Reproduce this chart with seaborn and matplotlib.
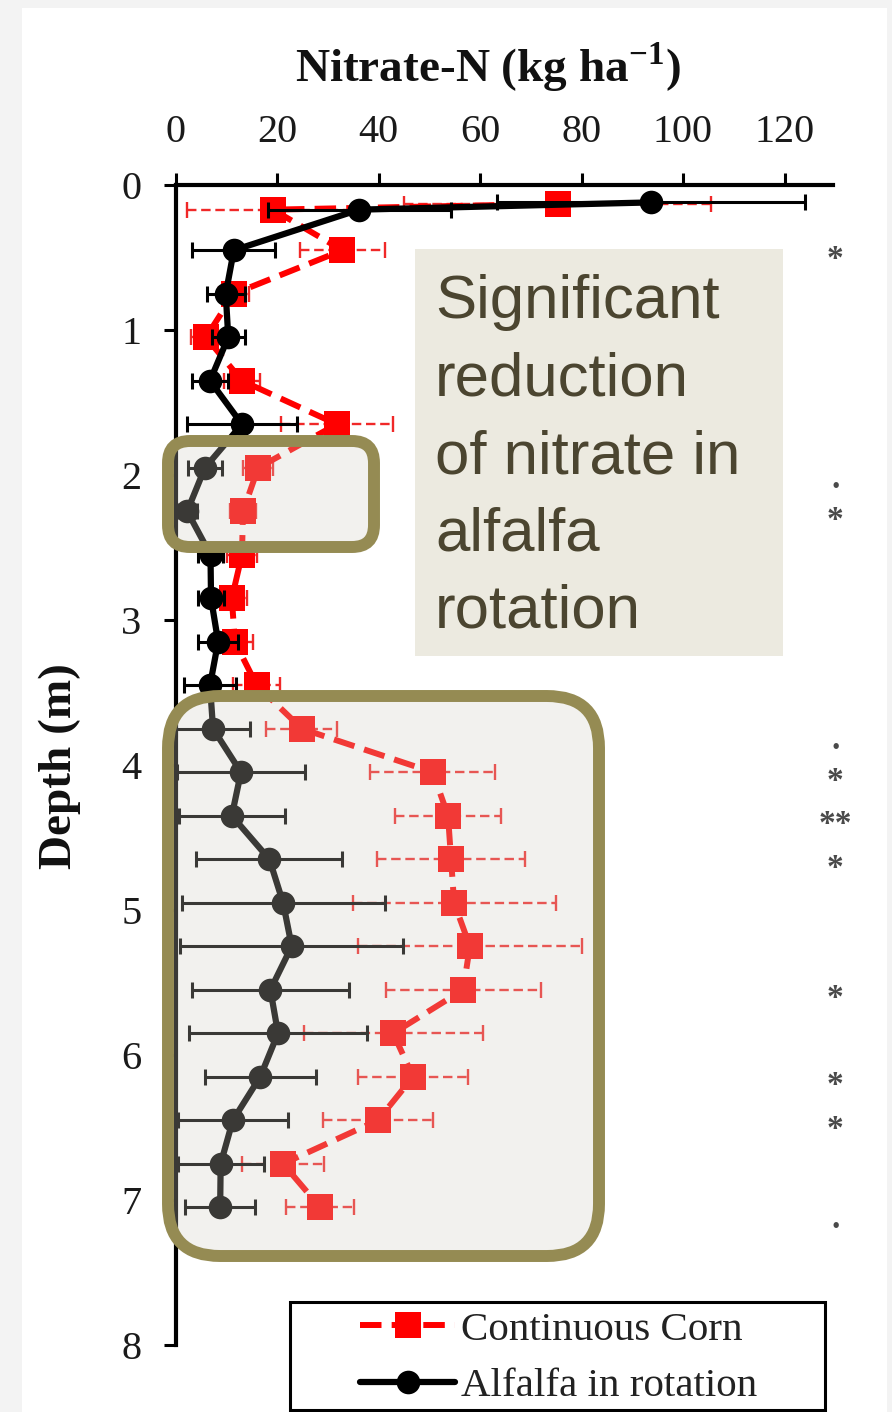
import matplotlib
matplotlib.use("Agg")
import matplotlib.pyplot as plt
import seaborn as sns
from matplotlib.patches import FancyBboxPatch, Rectangle

# ---------------- data ----------------
corn_depth = [0.13, 0.17, 0.45, 0.75, 1.05, 1.35, 1.65, 1.95, 2.25, 2.55, 2.85, 3.15,
              3.45, 3.75, 4.05, 4.35, 4.65, 4.95, 5.25, 5.55, 5.85, 6.15, 6.45, 6.75, 7.05]
corn_nitrate = [75.3, 19.2, 32.9, 11.5, 6.0, 13.1, 31.8, 16.3, 13.3, 13.1, 11.1, 11.7,
                16.0, 24.9, 50.7, 53.7, 54.3, 54.9, 58.0, 56.7, 42.9, 46.8, 39.9, 21.2, 28.5]
corn_err = [30.3, 17.0, 8.3, 3.0, 3.0, 3.5, 11.0, 3.0, 2.5, 3.0, 3.0, 3.6,
            4.6, 7.0, 12.3, 10.4, 14.5, 20.0, 22.0, 15.3, 17.6, 10.9, 10.8, 8.0, 6.7]

alf_depth = [0.12, 0.17, 0.45, 0.75, 1.05, 1.35, 1.65, 1.95, 2.25, 2.55, 2.85, 3.15,
             3.45, 3.75, 4.05, 4.35, 4.65, 4.95, 5.25, 5.55, 5.85, 6.15, 6.45, 6.75, 7.05]
alf_nitrate = [93.7, 36.2, 11.5, 9.9, 10.4, 6.8, 13.1, 5.8, 2.3, 6.9, 7.0, 8.4,
               6.8, 7.4, 12.9, 11.1, 18.5, 21.2, 22.9, 18.7, 20.2, 16.7, 11.3, 8.9, 8.8]
alf_err = [30.3, 18.0, 8.2, 3.7, 3.3, 3.6, 10.8, 3.4, 2.0, 2.5, 2.6, 3.9,
           5.2, 7.3, 12.6, 10.5, 14.4, 20.0, 22.0, 15.5, 17.6, 10.9, 10.8, 8.5, 6.9]

series_labels = ["Continuous Corn", "Alfalfa in rotation"]
x_ticks = [0, 20, 40, 60, 80, 100, 120]
y_ticks = [0, 1, 2, 3, 4, 5, 6, 7, 8]
sig_depth = [0.45, 1.95, 2.25, 3.75, 4.05, 4.35, 4.65, 5.55, 6.15, 6.45, 7.05]
sig_marks = ["*", ".", "*", ".", "*", "**", "*", "*", "*", "*", "."]
note_lines = ["Significant", "reduction", "of nitrate in", "alfalfa", "rotation"]

# ---------------- style ----------------
W, H, DPI = 892, 1412, 100
sns.set_theme(style="white")
plt.rcParams["font.family"] = ["Liberation Serif", "DejaVu Serif"]
plt.rcParams["mathtext.fontset"] = "custom"
plt.rcParams["mathtext.rm"] = "Liberation Serif"
plt.rcParams["mathtext.bf"] = "Liberation Serif:bold"

fig = plt.figure(figsize=(W / DPI, H / DPI), dpi=DPI, facecolor="#F3F3F3")

# background panel (pixel coordinates)
bg = fig.add_axes([0, 0, 1, 1], zorder=0)
bg.set_xlim(0, W); bg.set_ylim(H, 0); bg.axis("off")
bg.add_patch(Rectangle((22, 8), 865, H - 8, facecolor="white", edgecolor="none"))

# main axes
x0, x1, y0, y1 = 175.5, 833, 185, 1345
ax = fig.add_axes([x0 / W, 1 - y1 / H, (x1 - x0) / W, (y1 - y0) / H], zorder=1)
ax.patch.set_alpha(0)

# error bars + lines
eb_c = ax.errorbar(corn_nitrate, corn_depth, xerr=corn_err, fmt="none", ecolor="#F02828",
                   elinewidth=1.7, capsize=5.5, capthick=1.7, zorder=2)
eb_c[2][0].set_linestyle((0, (4, 2)))
sns.lineplot(x=corn_nitrate, y=corn_depth, sort=False, estimator=None, ax=ax, legend=False,
             color="#FF0000", lw=4.3, linestyle=(0, (3.6, 1.7)), marker="s",
             markersize=19, markeredgewidth=0, zorder=3)
corn_line = ax.lines[-1]

ax.errorbar(alf_nitrate, alf_depth, xerr=alf_err, fmt="none", ecolor="black",
            elinewidth=2.2, capsize=5.5, capthick=2.2, zorder=4)
sns.lineplot(x=alf_nitrate, y=alf_depth, sort=False, estimator=None, ax=ax, legend=False,
             color="black", lw=4.5, marker="o", markersize=17, markeredgewidth=0, zorder=5)
alf_line = ax.lines[-1]

ax.set_xlim(0, (x1 - x0) / 5.075)
ax.set_ylim(8, 0)
ax.set_xticks(x_ticks)
ax.set_yticks(y_ticks)
for s in ["right", "bottom"]:
    ax.spines[s].set_visible(False)
for s in ["top", "left"]:
    ax.spines[s].set_linewidth(3)
    ax.spines[s].set_color("black")
ax.xaxis.tick_top()
ax.tick_params(axis="x", top=True, bottom=False, labeltop=True, labelbottom=False,
               direction="out", length=8.6, width=2.2, pad=16, labelsize=29,
               labelcolor="#1A1A1A", color="black")
ax.tick_params(axis="y", left=True, direction="out", length=8.6, width=2.2, pad=16,
               labelsize=29, labelcolor="#1A1A1A", color="black")
ax.grid(False)

ax.xaxis.set_label_position("top")
ax.set_xlabel("Nitrate-N (kg ha$^{\\mathbf{-1}}$)", fontsize=34, fontweight="bold", color="#111111")
ax.xaxis.set_label_coords((488 - x0) / (x1 - x0), 1 + (y0 - 82) / (y1 - y0))
ax.xaxis.label.set_va("baseline")
ax.set_ylabel("Depth (m)", fontsize=34, fontweight="bold", color="#111111")
ax.yaxis.set_label_coords((60 - x0) / (x1 - x0), 1 - (766 - y0) / (y1 - y0))
ax.yaxis.label.set_va("center")

# significance marks
for d, m in zip(sig_depth, sig_marks):
    ax.text(130.0, d + (0.12 if m != "." else 0.14), m, ha="center", va="baseline",
            fontsize=24, fontweight="bold", color="#4A4A4A", clip_on=False)

# ---------------- overlay (pixel coordinates) ----------------
ov = fig.add_axes([0, 0, 1, 1], zorder=3)
ov.set_xlim(0, W); ov.set_ylim(H, 0); ov.axis("off")
ov.patch.set_alpha(0)

fill = (210 / 255, 207 / 255, 195 / 255, 0.28)
edge = "#958B53"
ov.add_patch(FancyBboxPatch((168, 441), 206, 106, boxstyle="round,pad=0,rounding_size=22",
                            facecolor=fill, edgecolor=edge, lw=8.6))
ov.add_patch(FancyBboxPatch((168, 696), 431, 560, boxstyle="round,pad=0,rounding_size=52",
                            facecolor=fill, edgecolor=edge, lw=8.6))

ov.add_patch(Rectangle((415, 249), 368, 407, facecolor="#ECEAE0", edgecolor="none"))
for i, t in enumerate(note_lines):
    ov.text(435, 318 + i * 77.5, t, ha="left", va="baseline", fontsize=44.5,
            family=["Liberation Sans", "DejaVu Sans"], color="#4B4530")

# legend
ov.add_patch(Rectangle((290, 1302), 535, 108, facecolor="white", edgecolor="black", lw=2.2))
ov.legend([corn_line, alf_line], series_labels, loc="center left",
          bbox_to_anchor=(340, 1358), bbox_transform=ov.transData, frameon=False,
          borderpad=0, fontsize=29.5, handlelength=2.3, handletextpad=0.15,
          labelspacing=0.45, labelcolor="#222222")

fig.savefig("out.png", dpi=DPI, facecolor=fig.get_facecolor())
